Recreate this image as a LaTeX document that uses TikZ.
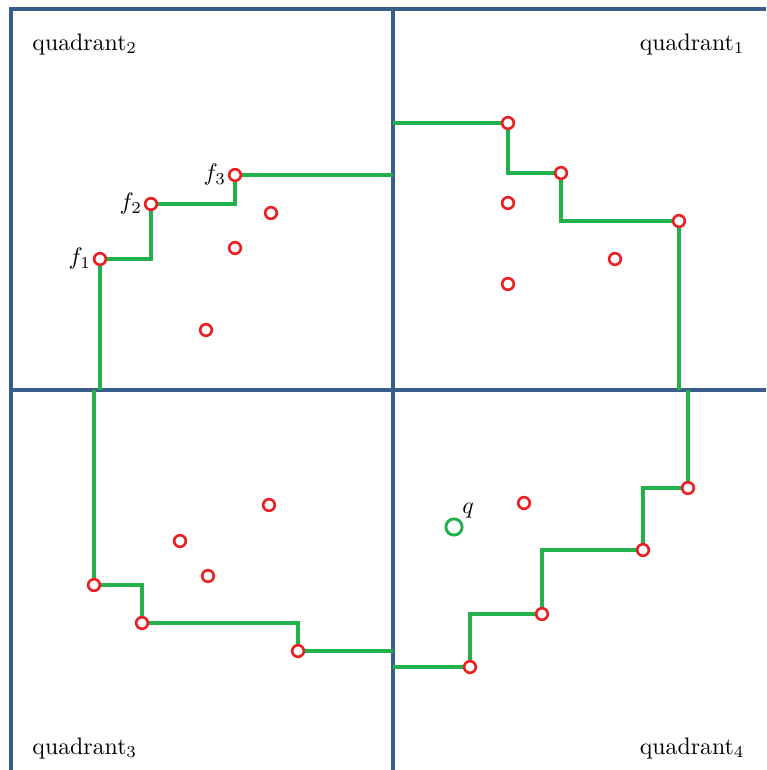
\documentclass[tikz,border=0pt]{standalone}
\usepackage{xcolor}
\definecolor{gridblue}{RGB}{58,94,140}
\definecolor{stairgreen}{RGB}{34,176,75}
\definecolor{ptred}{RGB}{236,32,36}
\tikzset{
  grid/.style={line width=1.45pt, color=gridblue},
  stair/.style={line width=1.3pt, color=stairgreen},
  pt/.style={circle, draw=ptred, fill=white, line width=1.1pt, inner sep=0pt, minimum size=4.9pt},
  qpt/.style={circle, draw=stairgreen, fill=white, line width=1.2pt, inner sep=0pt, minimum size=6.8pt},
  flabel/.style={anchor=east, inner sep=0.6pt}
}

\begin{document}
\begin{tikzpicture}[line cap=butt,line join=miter,x=0.42pt,y=-0.42pt]
  \useasboundingbox (0,0) rectangle (766,770);
  % quadrant lines
  \draw [grid] (11,770) -- (11,9) -- (766,9);
  \draw [grid] (393,9) -- (393,770);
  \draw [grid] (11,390) -- (766,390);

  % points, quadrant 2
  \node [pt] (f1) at (100,259) {};
  \node [pt] (f2) at (151,204) {};
  \node [pt] (f3) at (235,175) {};
  \node [pt] (p21) at (271,213) {};
  \node [pt] (p22) at (235,248) {};
  \node [pt] (p23) at (206,330) {};
  % points, quadrant 1
  \node [pt] (a1) at (508,123) {};
  \node [pt] (a2) at (561,173) {};
  \node [pt] (a3) at (679,221) {};
  \node [pt] (p11) at (508,203) {};
  \node [pt] (p12) at (615,259) {};
  \node [pt] (p13) at (508,284) {};
  % points, quadrant 3
  \node [pt] (c1) at (94,585) {};
  \node [pt] (c2) at (142,623) {};
  \node [pt] (c3) at (298,651) {};
  \node [pt] (p31) at (269,505) {};
  \node [pt] (p32) at (180,541) {};
  \node [pt] (p33) at (208,576) {};
  % points, quadrant 4
  \node [pt] (d1) at (470,667) {};
  \node [pt] (d2) at (542,614) {};
  \node [pt] (d3) at (643,550) {};
  \node [pt] (d4) at (688,488) {};
  \node [pt] (p41) at (524,503) {};
  \node [qpt] (q) at (454,527) {};

  % stair ends on the quadrant lines
  \coordinate (s2) at (100,390);
  \coordinate (e2) at (393,175);
  \coordinate (s1) at (393,123);
  \coordinate (e1) at (679,390);
  \coordinate (s3) at (94,390);
  \coordinate (e3) at (393,651);
  \coordinate (s4) at (393,667);
  \coordinate (e4) at (688,390);

  % staircases
  \draw [stair] (s2) -- (f1) -| (f2) -| (f3) -- (e2);
  \draw [stair] (s1) -- (a1) |- (a2) |- (a3) -- (e1);
  \draw [stair] (s3) -- (c1) -| (c2) -| (c3) -- (e3);
  \draw [stair] (s4) -- (d1) |- (d2) |- (d3) |- (d4) -- (e4);

  % labels
  \node [flabel] (lf1) at (f1.west) {$f_1$};
  \node [flabel] (lf2) at (f2.west) {$f_2$};
  \node [flabel] (lf3) at (f3.west) {$f_3$};
  \node [anchor=south west, inner sep=0.5pt] (lq) at (q.north east) {$q$};
  \node [anchor=base west, inner sep=0pt] (quad2) at (32,50) {quadrant$_2$};
  \node [anchor=base east, inner sep=0pt] (quad1) at (745,50) {quadrant$_1$};
  \node [anchor=base west, inner sep=0pt] (quad3) at (32,754) {quadrant$_3$};
  \node [anchor=base east, inner sep=0pt] (quad4) at (745,754) {quadrant$_4$};
\end{tikzpicture}
\end{document}
